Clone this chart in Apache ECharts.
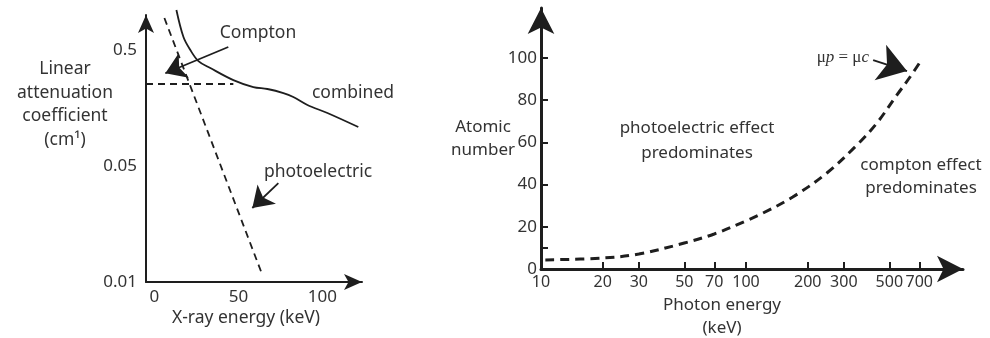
<!DOCTYPE html>
<html><head><meta charset="utf-8">
<script src="https://cdn.jsdelivr.net/npm/echarts@6/dist/echarts.min.js"></script>
<style>html,body{margin:0;padding:0;background:#fff}#c{width:990px;height:338px}</style>
</head><body><div id="c"></div>
<script>
// ---------- Left chart: linear attenuation coefficient vs X-ray energy ----------
const leftXTicks = [0, 50, 100];
const leftYTickPos = [0, 1, 2];                 // schematic, equally spaced levels
const leftYTickLabels = ['0.01', '0.05', '0.5'];
const combinedEnergy = [13.1, 17.3, 21.4, 26.2, 33.3, 47.0, 58.9, 67.3, 76.8, 82.7, 91.1, 103, 121.4];
const combinedLevel  = [2.345, 2.112, 2.0, 1.905, 1.845, 1.741, 1.681, 1.664, 1.629, 1.595, 1.526, 1.457, 1.336];
const photoEnergy = [5.95, 64.3];
const photoLevel  = [2.276, 0.06];
const comptonEnergy = [-5, 47.0];
const comptonLevel  = [1.707, 1.707];

// ---------- Right chart: atomic number vs photon energy ----------
const rightXTicks = [10, 20, 30, 50, 70, 100, 200, 300, 500, 700];
const rightXTickMarks = [20, 30, 50, 70, 100, 200, 300, 500, 700];
const rightYTicks = [0, 20, 40, 60, 80, 100];
const rightYTickMarks = [10, 20, 40, 60, 80, 100];
const boundaryEnergy = [10.5, 20, 30, 50, 70, 100, 121, 169, 248, 348, 435, 545, 631, 722];
const boundaryZ      = [4.3, 5.2, 7.1, 12.3, 16.6, 22.8, 26.5, 34.1, 45.5, 58.8, 69.2, 82.5, 91, 99.5];

const zip = (a, b) => a.map((v, i) => [v, b[i]]);
const FONT = '"Noto Sans", sans-serif';
const TXT = '#333';
const INK = '#1e1e1e';

const chart = echarts.init(document.getElementById('c'), null, {renderer: 'canvas'});

function txt(text, x, y, opts) {
  return {
    type: 'text', silent: true,
    style: Object.assign({
      text: text, x: x, y: y, align: 'center', verticalAlign: 'middle',
      fontFamily: FONT, fontSize: 17, fill: TXT, lineHeight: 23
    }, opts || {})
  };
}

const option = {
  animation: false,
  backgroundColor: '#fff',
  grid: [
    {left: 146, top: 15, width: 216, height: 267},
    {left: 541, top: 8, width: 422, height: 261}
  ],
  xAxis: [
    {
      gridIndex: 0, type: 'value', min: -5, max: 123.6,
      axisLine: {show: true, onZero: false, symbol: ['none', 'arrow'], symbolSize: [12, 18],
        lineStyle: {color: INK, width: 2}},
      axisTick: {show: false},
      splitLine: {show: false},
      axisLabel: {customValues: leftXTicks, margin: 7, color: TXT, fontSize: 17, fontFamily: FONT}
    },
    {
      gridIndex: 1, type: 'log', logBase: 10, min: 10, max: 1144,
      axisLine: {show: true, onZero: false, symbol: ['none', 'arrow'], symbolSize: [20, 26],
        lineStyle: {color: INK, width: 3}},
      axisTick: {show: true, inside: true, length: 7, customValues: rightXTickMarks,
        lineStyle: {color: INK, width: 2}},
      splitLine: {show: false},
      minorTick: {show: false},
      axisLabel: {customValues: rightXTicks, margin: 5, color: TXT, fontSize: 16, fontFamily: FONT,
        formatter: v => String(Math.round(v))}
    }
  ],
  yAxis: [
    {
      gridIndex: 0, type: 'value', min: 0, max: 2.302,
      axisLine: {show: true, onZero: false, symbol: ['none', 'arrow'], symbolSize: [12, 18],
        lineStyle: {color: INK, width: 2}},
      axisTick: {show: false},
      splitLine: {show: false},
      axisLabel: {customValues: leftYTickPos, margin: 9, color: TXT, fontSize: 17, fontFamily: FONT,
        formatter: v => leftYTickLabels[Math.round(v)]}
    },
    {
      gridIndex: 1, type: 'value', min: 0, max: 123.7,
      axisLine: {show: true, onZero: false, symbol: ['none', 'arrow'], symbolSize: [20, 26],
        lineStyle: {color: INK, width: 3}},
      axisTick: {show: true, inside: true, length: 7, customValues: rightYTickMarks,
        lineStyle: {color: INK, width: 2}},
      splitLine: {show: false},
      axisLabel: {customValues: rightYTicks, margin: 4, color: TXT, fontSize: 17, fontFamily: FONT}
    }
  ],
  series: [
    {
      name: 'combined', type: 'line', xAxisIndex: 0, yAxisIndex: 0,
      data: zip(combinedEnergy, combinedLevel), smooth: 0.35,
      showSymbol: false, clip: false,
      lineStyle: {color: INK, width: 1.8}
    },
    {
      name: 'photoelectric', type: 'line', xAxisIndex: 0, yAxisIndex: 0,
      data: zip(photoEnergy, photoLevel), showSymbol: false, clip: false,
      lineStyle: {color: INK, width: 1.8, type: [7, 5]}
    },
    {
      name: 'Compton', type: 'line', xAxisIndex: 0, yAxisIndex: 0,
      data: zip(comptonEnergy, comptonLevel), showSymbol: false, clip: false,
      lineStyle: {color: INK, width: 1.8, type: [7, 5]},
      markLine: {
        silent: true, animation: false, symbol: ['none', 'arrow'], symbolSize: 20,
        label: {show: false},
        lineStyle: {color: INK, width: 1.8, type: 'solid'},
        data: [
          [{coord: [44.0, 2.026]}, {coord: [6.5, 1.80]}],
          [{coord: [73.8, 0.853]}, {coord: [58.3, 0.638]}]
        ]
      }
    },
    {
      name: 'boundary', type: 'line', xAxisIndex: 1, yAxisIndex: 1,
      data: zip(boundaryEnergy, boundaryZ), smooth: 0.35,
      showSymbol: false, clip: false,
      lineStyle: {color: INK, width: 3, type: [9, 6]},
      markLine: {
        silent: true, animation: false, symbol: ['none', 'arrow'], symbolSize: 28,
        label: {show: false},
        lineStyle: {color: INK, width: 2, type: 'solid'},
        data: [
          [{coord: [417, 99]}, {coord: [610, 93.8]}]
        ]
      }
    }
  ],
  graphic: [
    txt('Linear\nattenuation\ncoefficient\n(cm¹)', 65, 104.5, {lineHeight: 23.5, fontSize: 17.5}),
    txt('X-ray energy (keV)', 246, 318, {fontSize: 17.5}),
    txt('Compton', 258, 33, {fontSize: 17.5}),
    txt('combined', 353, 93, {fontSize: 17.5}),
    txt('photoelectric', 318, 172, {fontSize: 17.5}),
    txt('Atomic\nnumber', 483, 138.5, {lineHeight: 23}),
    txt('photoelectric effect\npredominates', 697, 140.5, {lineHeight: 25}),
    txt('compton effect\npredominates', 921, 176.5, {lineHeight: 23}),
    txt('Photon energy\n(keV)', 722, 316.5),
    {
      type: 'text', silent: true,
      style: {
        text: '{n|μ}{i|p}{n| = μ}{i|c}', x: 869, y: 58, align: 'right', verticalAlign: 'middle',
        rich: {
          n: {fontFamily: '"Liberation Serif", serif', fontSize: 17, fill: TXT},
          i: {fontFamily: '"Liberation Serif", serif', fontSize: 17, fontStyle: 'italic', fill: TXT}
        }
      }
    }
  ]
};
chart.setOption(option);
</script>
</body></html>
